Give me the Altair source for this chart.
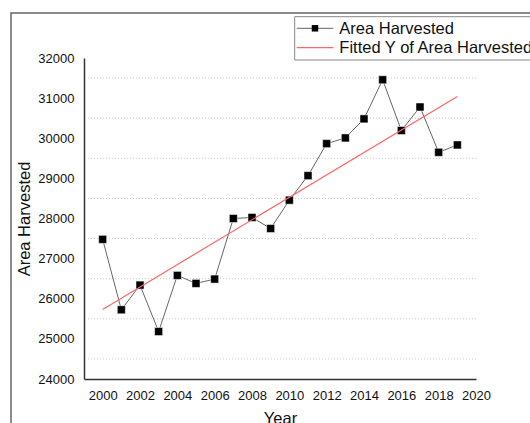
import altair as alt
import pandas as pd

years = list(range(2000, 2020))
area = [27480, 25725, 26340, 25183, 26582, 26382, 26490, 28000, 28025, 27750,
        28457, 29068, 29866, 30008, 30483, 31458, 30193, 30779, 29650, 29833]
series_names = ["Area Harvested", "Fitted Y of Area Harvested"]
x_ticks = list(range(2000, 2021, 2))
y_ticks = list(range(24000, 32001, 1000))
grid_vals = [24500, 25500, 26500, 27500, 28500, 29500, 30500, 31500]

FONT = "Liberation Sans"
df = pd.DataFrame({"year": years, "value": area})
grid_df = pd.DataFrame({"value": grid_vals})
one = alt.Data(values=[{"k": 1}])

xs = alt.Scale(domain=[1999, 2020], nice=False, zero=False)
ys = alt.Scale(domain=[24000, 32000], nice=False, zero=False)

X = alt.X("year:Q", scale=xs, title="Year",
          axis=alt.Axis(values=x_ticks, format="d", grid=False, ticks=False, tickSize=0,
                        labelOverlap=False, labelFlush=False,
                        labelPadding=10, titlePadding=8, domainColor="#333333",
                        domainWidth=1.5, labelFontSize=13, titleFontSize=16.5,
                        labelFont=FONT, titleFont=FONT, labelColor="#111111",
                        titleColor="#111111", titleFontWeight="normal"))
Y = alt.Y("value:Q", scale=ys, title="Area Harvested",
          axis=alt.Axis(values=y_ticks, format="d", grid=False, ticks=False, tickSize=0,
                        labelOverlap=False, labelFlush=False,
                        labelPadding=10, titlePadding=5, domainColor="#333333",
                        domainWidth=1.5, labelFontSize=13, titleFontSize=16.5,
                        labelFont=FONT, titleFont=FONT, labelColor="#111111",
                        titleColor="#111111", titleFontWeight="normal"))

# outer frame
frame = alt.Chart(one).mark_rect(fillOpacity=0, stroke="#666666", strokeWidth=1.5).encode(
    x=alt.value(-73), x2=alt.value(520), y=alt.value(-45), y2=alt.value(460))

grid = alt.Chart(grid_df).mark_rule(color="#c8c8c8", strokeWidth=1, strokeDash=[1, 2]).encode(
    y=Y)

line = alt.Chart(df).mark_line(color="#666666", strokeWidth=1).encode(x=X, y=Y)

points = alt.Chart(df).mark_square(size=64, color="black", opacity=1, stroke="white",
                                   strokeWidth=0.5).encode(x=X, y=Y)

fit = alt.Chart(df).transform_regression("year", "value", extent=[2000, 2019]).mark_line(
    color="#ff6666", strokeWidth=1.2).encode(x=X, y=Y)

# legend
leg_box = alt.Chart(one).mark_rect(fill="white", stroke="#888888", strokeWidth=1).encode(
    x=alt.value(210.7), x2=alt.value(520), y=alt.value(-41.3), y2=alt.value(2))
leg_l1 = alt.Chart(one).mark_rule(color="#666666", strokeWidth=1).encode(
    x=alt.value(212.7), x2=alt.value(249.3), y=alt.value(-29.7))
leg_sq = alt.Chart(one).mark_square(size=42, color="black", opacity=1).encode(
    x=alt.value(231), y=alt.value(-29.7))
leg_l2 = alt.Chart(one).mark_rule(color="#ff6666", strokeWidth=1.2).encode(
    x=alt.value(212.7), x2=alt.value(249.3), y=alt.value(-10.3))
leg_t1 = alt.Chart(one).mark_text(align="left", baseline="middle", font=FONT, fontSize=16.5,
                                  color="#111111").encode(
    x=alt.value(255.3), y=alt.value(-29.2), text=alt.value(series_names[0]))
leg_t2 = alt.Chart(one).mark_text(align="left", baseline="middle", font=FONT, fontSize=16.5,
                                  color="#111111").encode(
    x=alt.value(255.3), y=alt.value(-9.8), text=alt.value(series_names[1]))

chart = alt.layer(frame, grid, line, points, fit, leg_box, leg_l1, leg_sq, leg_l2,
                  leg_t1, leg_t2).properties(
    width=392, height=321,
    autosize=alt.AutoSizeParams(type="none"),
    padding={"left": 84, "top": 58, "right": 54, "bottom": 44},
    background="white",
).configure_view(stroke=None)

chart.save("out.html", embed_options={"renderer": "svg", "actions": False})
